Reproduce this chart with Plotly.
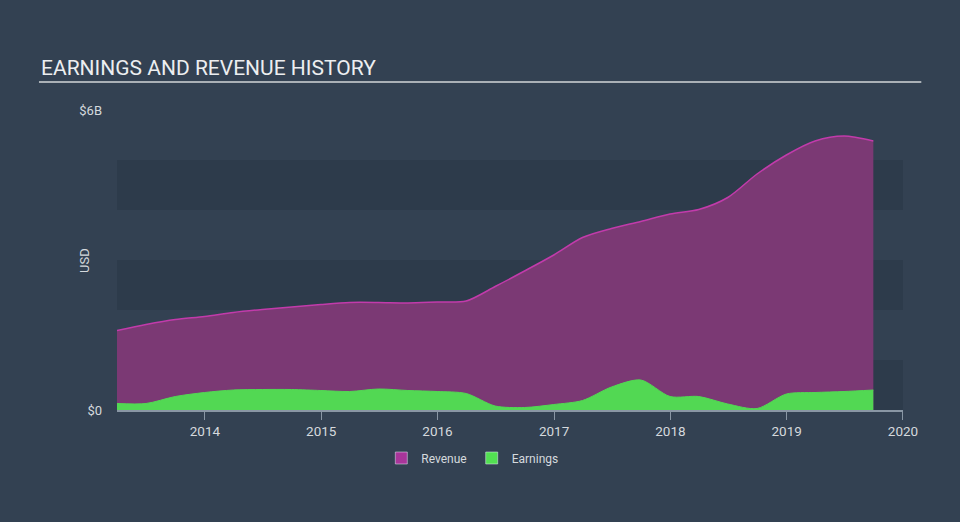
import plotly.graph_objects as go

dates = ["2013-03-31", "2013-06-30", "2013-09-30", "2013-12-31",
         "2014-03-31", "2014-06-30", "2014-09-30", "2014-12-31",
         "2015-03-31", "2015-06-30", "2015-09-30", "2015-12-31",
         "2016-03-31", "2016-06-30", "2016-09-30", "2016-12-31",
         "2017-03-31", "2017-06-30", "2017-09-30", "2017-12-31",
         "2018-03-31", "2018-06-30", "2018-09-30", "2018-12-31",
         "2019-03-31", "2019-06-30", "2019-09-30"]

revenue = [1.59, 1.71, 1.81, 1.87, 1.95, 2.01, 2.06, 2.11,
           2.15, 2.15, 2.14, 2.16, 2.18, 2.47, 2.78, 3.10,
           3.45, 3.63, 3.77, 3.92, 4.01, 4.25, 4.72, 5.10,
           5.38, 5.48, 5.38]

earnings = [0.13, 0.13, 0.27, 0.35, 0.40, 0.41, 0.41, 0.39,
            0.37, 0.42, 0.39, 0.37, 0.33, 0.08, 0.05, 0.11,
            0.19, 0.46, 0.60, 0.27, 0.27, 0.12, 0.03, 0.32,
            0.35, 0.37, 0.40]

y_tickvals = [0, 6]
y_ticktext = ["$0", "$6B"]
x_tickvals = ["2014-01-01", "2015-01-01", "2016-01-01", "2017-01-01",
              "2018-01-01", "2019-01-01", "2020-01-01"]
x_ticktext = ["2014", "2015", "2016", "2017", "2018", "2019", "2020"]
band_ranges = [(0, 1), (2, 3), (4, 5)]

BG = "#334152"
BAND = "#2d3b4b"
TXT = "#d5d9dd"
REV_FILL = "#7b3974"
REV_LINE = "#c23bab"
EARN = "#52d853"

fig = go.Figure()

fig.add_trace(go.Scatter(
    x=dates, y=revenue, mode="lines", fill="tozeroy",
    line=dict(color=REV_LINE, width=1.5, shape="spline", smoothing=0.8),
    fillcolor=REV_FILL, showlegend=False, hoverinfo="skip"))

fig.add_trace(go.Scatter(
    x=dates, y=earnings, mode="lines", fill="tozeroy",
    line=dict(color=EARN, width=1, shape="spline", smoothing=0.8),
    fillcolor=EARN, showlegend=False, hoverinfo="skip"))

# legend swatches
fig.add_trace(go.Bar(x=[None], y=[None], name="Revenue", marker_color="#a8359a"))
fig.add_trace(go.Bar(x=[None], y=[None], name="Earnings", marker_color="#52e052"))

shapes = []
for lo, hi in band_ranges:
    shapes.append(dict(type="rect", xref="paper", yref="y", x0=0, x1=1,
                       y0=lo, y1=hi, fillcolor=BAND, line=dict(width=0),
                       layer="below"))
# title underline
shapes.append(dict(type="line", xref="paper", yref="paper",
                   x0=(39 - 117) / 785.7, x1=(921 - 117) / 785.7,
                   y0=(410 - 82) / 300, y1=(410 - 82) / 300,
                   line=dict(color="#aab0b6", width=2)))

fig.update_layout(
    width=960, height=522,
    margin=dict(l=117, r=57, t=110, b=112, autoexpand=False),
    paper_bgcolor=BG, plot_bgcolor="rgba(0,0,0,0)",
    font=dict(family="Roboto", color=TXT, size=12),
    shapes=shapes,
    showlegend=True,
    legend=dict(orientation="h", xref="container", x=0.492, xanchor="center",
                yref="container", y=(522 - 458) / 522, yanchor="middle",
                font=dict(size=12, color=TXT),
                itemwidth=30, bgcolor="rgba(0,0,0,0)"),
    annotations=[
        dict(text="EARNINGS AND REVENUE HISTORY", xref="paper",
             yref="paper", x=(39 - 117) / 785.7, y=(410 - 68) / 300,
             xanchor="left", yanchor="middle", showarrow=False,
             font=dict(size=21, color="#eceef0", family="Roboto")),
        dict(text="USD", xref="paper", yref="paper",
             x=(84 - 117) / 785.7, y=(410 - 260) / 300, textangle=-90,
             xanchor="center", yanchor="middle", showarrow=False,
             font=dict(size=13, color=TXT, family="Roboto")),
    ],
)

fig.update_xaxes(type="date", range=["2013-03-31", "2020-01-01 02:00"],
                 tickvals=x_tickvals, ticktext=x_ticktext,
                 showgrid=False, zeroline=False,
                 showline=True, linecolor="#8996a4", linewidth=1.5,
                 ticks="outside", ticklen=8, tickcolor="#8996a4", tickwidth=1,
                 tickfont=dict(size=13.5, color=TXT))

fig.update_yaxes(range=[0, 6], tickvals=y_tickvals, ticktext=y_ticktext,
                 showgrid=False, zeroline=False, showline=False,
                 ticks="", ticklabelstandoff=14,
                 tickfont=dict(size=13, color=TXT))

fig.write_html("out.html", config={"displayModeBar": False},
               post_script="document.body.style.margin='0';document.body.style.background='" + BG + "';")
